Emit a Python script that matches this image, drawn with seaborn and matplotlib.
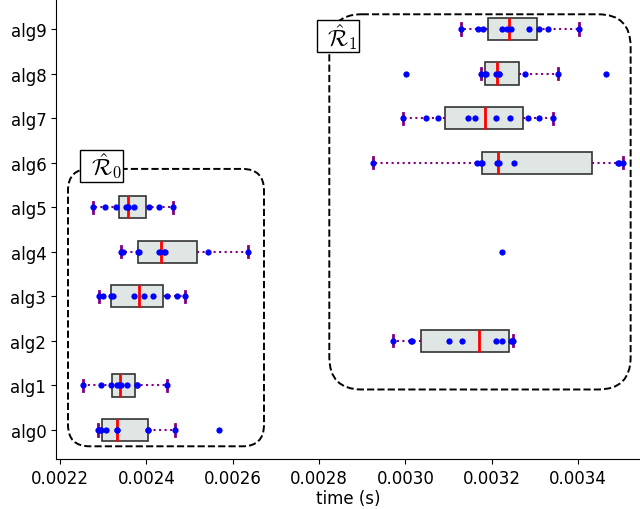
import matplotlib
matplotlib.use("Agg")
import matplotlib.pyplot as plt
from matplotlib.patches import FancyBboxPatch
import pandas as pd
import seaborn as sns

plt.rcParams['mathtext.fontset'] = 'cm'

# run times per algorithm (s)
alg0 = [0.002289, 0.0022915, 0.002294, 0.002307, 0.002333, 0.002333, 0.002404, 0.0024045, 0.002466, 0.002568]
alg1 = [0.0022525, 0.002294, 0.0023175, 0.002333, 0.0023375, 0.0023405, 0.002356, 0.002379, 0.002379, 0.0024485]
alg2 = [0.002972, 0.003014, 0.0030142, 0.003101, 0.0031305, 0.00321, 0.003224, 0.003244, 0.003247, 0.00325]
alg3 = [0.002291, 0.002299, 0.0023175, 0.0023235, 0.0023715, 0.0023945, 0.002416, 0.002447, 0.0024715, 0.002489]
alg4 = [0.0023405, 0.002345, 0.00238, 0.002384, 0.0024285, 0.002441, 0.0024425, 0.002543, 0.002635, 0.003224]
alg5 = [0.0022755, 0.0023035, 0.00233, 0.002353, 0.0023575, 0.0023575, 0.0023715, 0.002407, 0.00243, 0.002461]
alg6 = [0.002924, 0.003165, 0.003176, 0.0031775, 0.0032115, 0.0032175, 0.003252, 0.0034925, 0.003495, 0.0035035]
alg7 = [0.002994, 0.003048, 0.0030755, 0.003145, 0.0031605, 0.00321, 0.0032425, 0.003284, 0.00331, 0.003341]
alg8 = [0.003001, 0.003175, 0.0031835, 0.003187, 0.00321, 0.003216, 0.003217, 0.003278, 0.0033545, 0.003464]
alg9 = [0.00313, 0.003169, 0.0031805, 0.003224, 0.0032345, 0.0032455, 0.003287, 0.00331, 0.00333, 0.003403]

names = ['alg0', 'alg1', 'alg2', 'alg3', 'alg4', 'alg5', 'alg6', 'alg7', 'alg8', 'alg9']
runs = [alg0, alg1, alg2, alg3, alg4, alg5, alg6, alg7, alg8, alg9]

rows = []
for name, vals in zip(names, runs):
    for v in vals:
        rows.append({'alg': name, 'time': v})
df = pd.DataFrame(rows)

order = names[::-1]  # alg9 on top

fig = plt.figure(figsize=(6.4, 5.1), dpi=100)
ax = fig.add_axes([56 / 640, 50 / 510, 584 / 640, 460 / 510])

sns.boxplot(data=df, x='time', y='alg', order=order, ax=ax, width=0.5,
            color='#dfe6e4', linecolor='#333333', saturation=1, showfliers=False,
            linewidth=1.2,
            medianprops={'color': 'red', 'linewidth': 2},
            whiskerprops={'color': 'purple', 'linestyle': ':', 'linewidth': 1.5},
            capprops={'color': 'purple', 'linewidth': 2})
sns.stripplot(data=df, x='time', y='alg', order=order, ax=ax, jitter=False,
              color='blue', size=4.5, zorder=3)

ax.set_xlim(0.0021907, 0.0035435)
ax.set_ylim(9.65, -0.673)
ax.set_xlabel('time (s)', fontsize=12, labelpad=2)
ax.set_ylabel('')
ax.tick_params(labelsize=12)
ax.spines['top'].set_visible(False)
ax.spines['right'].set_visible(False)

# dashed region outlines
aspect = (1 / 44.56) / 2.3164e-6
r0 = FancyBboxPatch((0.0022185, 3.14), 0.000454, 6.225,
                    boxstyle='round,pad=0,rounding_size=0.00005',
                    mutation_aspect=aspect, fill=False, ec='black',
                    ls='--', lw=1.4, zorder=1)
r1 = FancyBboxPatch((0.0028238, -0.33), 0.000698, 8.42,
                    boxstyle='round,pad=0,rounding_size=0.000075',
                    mutation_aspect=aspect, fill=False, ec='black',
                    ls='--', lw=1.4, zorder=1)
ax.add_patch(r0)
ax.add_patch(r1)

box = dict(boxstyle='square,pad=0.05', fc='white', ec='black', lw=1)
ax.text(0.0022961, 3.07, r'$\;\,\hat{\mathcal{R}}_0\;\,$', fontsize=17, ha='center',
        va='center', bbox=box, zorder=4)
ax.text(0.002844, 0.15, r'$\;\,\hat{\mathcal{R}}_1\;\,$', fontsize=17, ha='center',
        va='center', bbox=box, zorder=4)

fig.savefig('out.png', dpi=100)
